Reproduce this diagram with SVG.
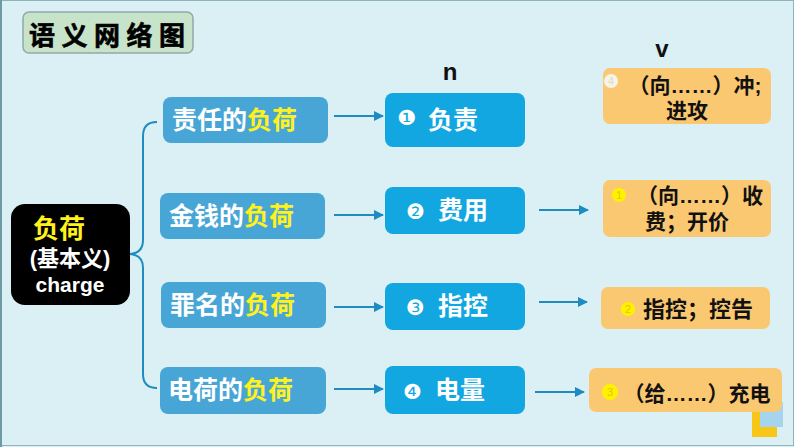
<svg xmlns="http://www.w3.org/2000/svg" width="794" height="447" viewBox="0 0 794 447">
<style>
.cjk{font-family:"Liberation Sans","Noto Sans CJK SC",sans-serif;font-weight:700}
.l1{fill:#48A6D7}
.l2{fill:#12A7E1}
.l3{fill:#FBC872}
.t1{font-size:25px;fill:#fff}
.dg{font-family:"DejaVu Sans",sans-serif;font-size:21px;fill:#fff}
.y{fill:#FFF21C}
.t3{font-size:21px;fill:#111}
.con{stroke:#1E8CC0;stroke-width:2;fill:none}
.num{font-family:"Liberation Sans",sans-serif;font-size:11px;text-anchor:middle}
</style>
<defs>
<marker id="ah" viewBox="0 0 10 10" refX="9" refY="5" markerWidth="6" markerHeight="5" orient="auto" markerUnits="strokeWidth">
<path d="M0,0 L10,5 L0,10 z" fill="#1E8CC0"/>
</marker>
</defs>
<rect x="0" y="0" width="794" height="447" fill="#DAF0F4"/>
<rect x="0.5" y="0.5" width="793" height="445" fill="none" stroke="#8FB3BC" stroke-width="1"/>
<rect x="0" y="0" width="2" height="447" fill="#6E9AA6"/>

<g id="title">
<rect x="23" y="12" width="170" height="41" rx="6" fill="#C7E3C9" stroke="#93A9AB" stroke-width="1.5"/>
<text x="29" y="45" class="cjk" font-size="26" letter-spacing="6.5" fill="#000" stroke="#000" stroke-width="0.6">语义网络图</text>
</g>

<g id="connectors">
<path class="con" stroke-width="3" d="M157,122 Q143,122 143,136 L143,240 Q143,253 130,254 Q143,255 143,268 L143,374 Q143,388 157,388"/>
<line class="con" x1="334" y1="116" x2="383" y2="116" marker-end="url(#ah)"/>
<line class="con" x1="334" y1="215" x2="383" y2="215" marker-end="url(#ah)"/>
<line class="con" x1="334" y1="307" x2="383" y2="307" marker-end="url(#ah)"/>
<line class="con" x1="334" y1="389" x2="383" y2="389" marker-end="url(#ah)"/>
<line class="con" x1="539" y1="210" x2="588" y2="210" marker-end="url(#ah)"/>
<line class="con" x1="539" y1="302" x2="587" y2="302" marker-end="url(#ah)"/>
<line class="con" x1="535" y1="392" x2="584" y2="392" marker-end="url(#ah)"/>
</g>

<g id="root">
<rect x="11" y="204" width="119" height="101" rx="14" fill="#000"/>
<text x="33" y="238" class="cjk" font-size="26" fill="#FFF21C">负荷</text>
<text x="70" y="266" class="cjk" font-size="22" fill="#fff" text-anchor="middle">(基本义)</text>
<text x="70" y="292" class="cjk" font-size="21" fill="#fff" text-anchor="middle">charge</text>
</g>

<g id="a1">
<rect class="l1" x="163" y="97" width="165" height="46" rx="8"/>
<text x="172" y="129" class="cjk t1">责任的<tspan class="y">负荷</tspan></text>
</g>
<g id="a2">
<rect class="l1" x="160" y="193" width="165" height="46" rx="8"/>
<text x="169" y="225" class="cjk t1">金钱的<tspan class="y">负荷</tspan></text>
</g>
<g id="a3">
<rect class="l1" x="161" y="282" width="165" height="46" rx="8"/>
<text x="170" y="314" class="cjk t1">罪名的<tspan class="y">负荷</tspan></text>
</g>
<g id="a4">
<rect class="l1" x="160" y="367" width="166" height="47" rx="8"/>
<text x="168" y="399" class="cjk t1">电荷的<tspan class="y">负荷</tspan></text>
</g>

<text x="450" y="80" class="cjk" font-size="24" fill="#111" text-anchor="middle">n</text>
<text x="662" y="57" class="cjk" font-size="24" fill="#111" text-anchor="middle">v</text>

<g id="n1">
<rect class="l2" x="385" y="93" width="140" height="54" rx="8"/>
<text x="397" y="125" class="dg">❶</text>
<text x="428" y="129" class="cjk t1">负责</text>
</g>
<g id="n2">
<rect class="l2" x="385" y="187" width="140" height="47" rx="8"/>
<text x="406" y="219" class="dg">❷</text>
<text x="438" y="219" class="cjk t1">费用</text>
</g>
<g id="n3">
<rect class="l2" x="385" y="283" width="140" height="47" rx="8"/>
<text x="406" y="315" class="dg">❸</text>
<text x="438" y="315" class="cjk t1">指控</text>
</g>
<g id="n4">
<rect class="l2" x="385" y="366" width="140" height="48" rx="8"/>
<text x="403" y="399" class="dg">❹</text>
<text x="435" y="399" class="cjk t1">电量</text>
</g>

<g id="deco">
<rect x="752" y="412" width="25" height="25" fill="#F7C617"/>
<rect x="760" y="402" width="23" height="25" fill="#A6D3EE"/>
</g>

<g id="v1">
<rect class="l3" x="603" y="68" width="168" height="56" rx="7"/>
<circle cx="611" cy="81" r="7" fill="#F4F4EC"/>
<text x="611" y="85" class="num" fill="#E6DDA8">4</text>
<text x="695" y="93" class="cjk t3" text-anchor="middle">（向……）冲;</text>
<text x="687" y="118" class="cjk t3" text-anchor="middle">进攻</text>
</g>
<g id="v2">
<rect class="l3" x="603" y="180" width="168" height="57" rx="7"/>
<circle cx="619" cy="195" r="7" fill="#FFF200"/>
<text x="619" y="199" class="num" fill="#E8C400">1</text>
<text x="700" y="203" class="cjk t3" text-anchor="middle">（向……）收</text>
<text x="687" y="229" class="cjk t3" text-anchor="middle">费；开价</text>
</g>
<g id="v3">
<rect class="l3" x="601" y="287" width="169" height="42" rx="7"/>
<circle cx="628" cy="309" r="7" fill="#FFF200"/>
<text x="628" y="313" class="num" fill="#E8C400">2</text>
<text x="643" y="317" class="cjk" font-size="22" fill="#111">指控；控告</text>
</g>
<g id="v4">
<rect class="l3" x="589" y="368" width="193" height="44" rx="7"/>
<circle cx="610" cy="392" r="8" fill="#FFF200"/>
<text x="610" y="396" class="num" fill="#E8C400">3</text>
<text x="697" y="401" class="cjk t3" text-anchor="middle">（给……）充电</text>
</g>
</svg>
